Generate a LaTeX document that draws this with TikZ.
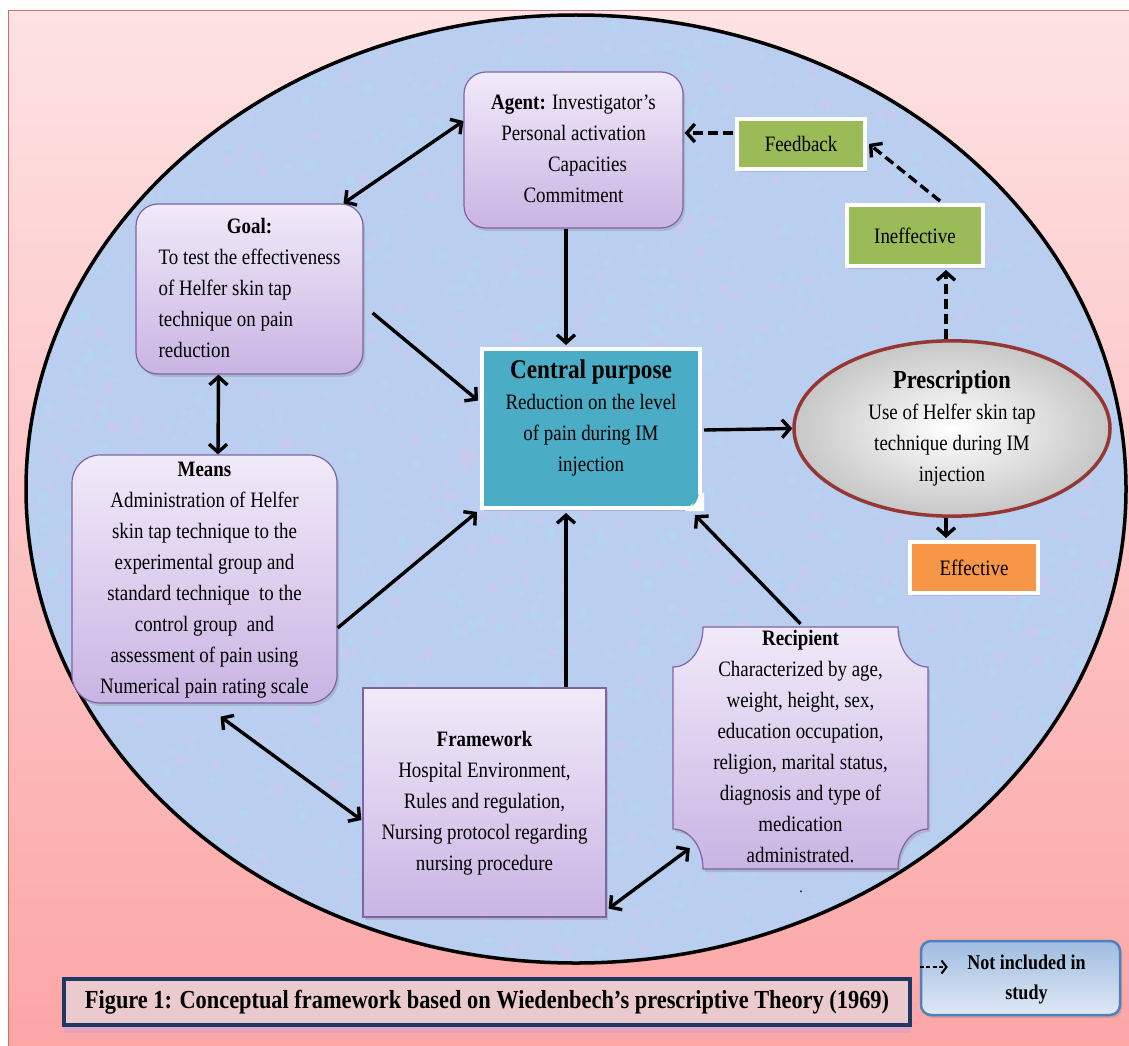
\documentclass[tikz,border=0pt]{standalone}
\usepackage{fontspec}
\setmainfont{Liberation Serif}[FakeStretch=0.86]
\usetikzlibrary{arrows.meta,calc,shadows,shapes.geometric}

\definecolor{bgtop}{RGB}{253,226,227}
\definecolor{bgbot}{RGB}{252,166,166}
\definecolor{bgline}{RGB}{205,110,110}
\definecolor{ellfill}{RGB}{186,207,240}
\definecolor{spotpink}{RGB}{220,196,236}
\definecolor{spotcyan}{RGB}{176,222,246}
\definecolor{purpborder}{RGB}{128,100,162}
\definecolor{purptop}{RGB}{241,234,249}
\definecolor{purpbot}{RGB}{201,180,227}
\definecolor{greenbox}{RGB}{155,187,89}
\definecolor{orangebox}{RGB}{247,150,70}
\definecolor{tealbox}{RGB}{75,172,198}
\definecolor{prescborder}{RGB}{149,55,53}
\definecolor{navy}{RGB}{31,56,100}
\definecolor{legborder}{RGB}{79,129,189}
\definecolor{legtop}{RGB}{160,188,224}
\definecolor{legbot}{RGB}{224,233,246}
\definecolor{capfill}{RGB}{234,202,204}
\newcommand{\hdfont}{\fontsize{27}{31}\selectfont\bfseries}

\begin{document}
\begin{tikzpicture}[x=1pt,y=-1pt,
  txt/.style={font=\fontsize{22}{31}\selectfont, text=black, inner sep=0pt},
  shad/.style={drop shadow={opacity=0.3,shadow xshift=2pt,shadow yshift=-3pt}},
  purplebox/.style={txt, shad, draw=purpborder, line width=1.2pt, top color=purptop, bottom color=purpbot},
  whitebox/.style={txt, shad, draw=white, line width=4pt},
  arr/.style={line width=3.4pt, -{Straight Barb[length=8pt,width=18pt]}},
  darr/.style={line width=3.4pt, {Straight Barb[length=8pt,width=18pt]}-{Straight Barb[length=8pt,width=18pt]}},
  dasharr/.style={arr, dash pattern=on 10pt off 5pt}
]
\useasboundingbox (0,0) rectangle (1129,1046);
\fill[white] (0,0) rectangle (1129,1046);
\shade[top color=bgtop,bottom color=bgbot] (8,11) rectangle (1129,1046);
\draw[line width=1pt, bgline] (8,1046) -- (8,11) -- (1129,11);
\fill[ellfill] (576,489) ellipse [x radius=550, y radius=474];
\begin{scope}
  \clip (576,489) ellipse [x radius=550, y radius=474];
  \pgfmathsetseed{4242}
  \foreach \i in {1,...,2200}{
    \pgfmathsetmacro{\px}{26+1100*rnd}
    \pgfmathsetmacro{\py}{15+948*rnd}
    \pgfmathsetmacro{\pr}{2+4*rnd}
    \pgfmathsetmacro{\pc}{rnd}
    \ifdim\pc pt<0.5pt
      \fill[spotpink, opacity=0.3] (\px,\py) circle[radius=\pr];
    \else
      \fill[spotcyan, opacity=0.3] (\px,\py) circle[radius=\pr];
    \fi
  }
\end{scope}
\draw[line width=3.5pt] (576,489) ellipse [x radius=550, y radius=474];

% Agent
\node[purplebox, rounded corners=22pt, minimum width=219pt, minimum height=156pt] (agent) at (573.5,150)
 {\begin{tabular}{@{}c@{}}\textbf{Agent:} Investigator’s\\ Personal activation\\ \hspace*{28pt}Capacities\\ Commitment\end{tabular}};

% Goal
\node[purplebox, rounded corners=22pt, minimum width=227pt, minimum height=170pt] (goal) at (249.5,289)
 {\begin{tabular}{@{}l@{}}\multicolumn{1}{c}{\textbf{Goal:}}\\ To test the effectiveness\\ of Helfer skin tap\\ technique on pain\\ reduction\end{tabular}};

% Means
\node[purplebox, rounded corners=28pt, minimum width=265pt, minimum height=242pt] (means) at (204.5,579)
 {\begin{tabular}{@{}c@{}}\textbf{Means}\\ Administration of Helfer\\ skin tap technique to the\\ experimental group and\\ standard technique~ to the\\ control group~ and\\ assessment of pain using\\ Numerical pain rating scale\end{tabular}};

% Framework
\node[purplebox, minimum width=243pt, minimum height=229pt] (frame) at (484.5,802.5)
 {\begin{tabular}{@{}c@{}}\textbf{Framework}\\ Hospital Environment,\\ Rules and regulation,\\ Nursing protocol regarding\\ nursing procedure\end{tabular}};

% Recipient plaque
\path[shad, draw=purpborder, line width=1.2pt, top color=purptop, bottom color=purpbot]
 (703,627) -- (898,627) .. controls (898,649) and (911,667) .. (928,667) -- (928,829)
 .. controls (911,829) and (898,847) .. (898,869) -- (703,869)
 .. controls (703,847) and (690,829) .. (673,829) -- (673,667)
 .. controls (690,667) and (703,649) .. (703,627) -- cycle;
\node[txt, minimum width=255pt, minimum height=242pt] (recip) at (800.5,748)
 {\begin{tabular}{@{}c@{}}\textbf{Recipient}\\ Characterized by age,\\ weight, height, sex,\\ education occupation,\\ religion, marital status,\\ diagnosis and type of\\ medication\\ administrated.\end{tabular}};
\node[txt, font=\fontsize{16}{18}\selectfont] (dot) at (801,892) {.};

% Central purpose
\node[whitebox, fill=tealbox, minimum width=218pt, minimum height=159pt] (central) at (591,428.5)
 {\begin{tabular}{@{}c@{}}{\hdfont Central purpose}\\ Reduction on the level\\ of pain during IM\\ injection\\[20pt]\end{tabular}};
\fill[white] ($(central.south east)+(-17,1)$) -- ($(central.south east)+(2,-18)$) -- ($(central.south east)+(2,1)$) -- cycle;
\fill[tealbox] ($(central.south east)+(-10,-4)$) .. controls ($(central.south east)+(-8,-11)$) .. ($(central.south east)+(-3,-16)$) -- ($(central.south east)+(-6,-8)$) -- cycle;

% Prescription
\node[txt, ellipse, draw=prescborder, line width=3.5pt, inner color=white, outer color=black!22,
      minimum width=316pt, minimum height=129pt] (presc) at (952,428.5)
 {\begin{tabular}{@{}c@{}}{\fontsize{26}{31}\selectfont\bfseries Prescription}\\ Use of Helfer skin tap\\ technique during IM\\ injection\end{tabular}};

% Outcome boxes
\node[whitebox, fill=greenbox, minimum width=128pt, minimum height=50pt] (feedback) at (801,144) {Feedback};
\node[whitebox, fill=greenbox, minimum width=136pt, minimum height=61pt] (ineff) at (915,235.5) {Ineffective};
\node[whitebox, fill=orangebox, minimum width=128pt, minimum height=51pt] (eff) at (974,567.5) {Effective};

% Legend
\node[txt, shad, draw=legborder, line width=2.5pt, rounded corners=10pt, top color=legtop, bottom color=legbot,
      minimum width=199pt, minimum height=74pt, font=\fontsize{21}{30}\selectfont\bfseries] (legend) at (1020.5,978)
 {\begin{tabular}{@{}c@{}}\hspace*{12pt}Not included in\\ \hspace*{12pt}study\end{tabular}};
\coordinate (legA) at ($(legend.west)+(0,-11)$);
\coordinate (legB) at ($(legend.west)+(28,-11)$);
\draw[line width=2pt, dash pattern=on 4pt off 2.5pt, -{Straight Barb[length=5pt,width=13pt]}] (legA) -- (legB);

% Caption
\node[txt, draw=navy, line width=3.5pt, fill=capfill, minimum width=846pt, minimum height=46pt,
      drop shadow={opacity=0.25, shadow xshift=0pt, shadow yshift=-8pt, fill=blue!40},
      font=\fontsize{26}{30}\selectfont\bfseries] (caption) at (487,1002)
 {Figure 1: Conceptual framework based on Wiedenbech’s prescriptive Theory (1969)};

% Connectors
\draw[darr] ($(agent.west)+(0,-29)$) -- ($(goal.north)+(94,0)$);
\draw[darr] ($(goal.south)+(-31,0)$) -- ($(means.north)+(13.5,0)$);
\draw[arr] ($(goal.east)+(9,24)$) -- ($(central.west)+(-2,-28)$);
\draw[arr] ($(agent.south)+(-7.5,0)$) -- ($(central.north)+(-25,-2)$);
\draw[arr] ($(means.east)+(0,49)$) -- ($(central.south west)+(-3,2)$);
\draw[arr] ($(frame.north)+(81.5,0)$) -- ($(central.south)+(-25,3)$);
\draw[arr] (recip.north) -- ($(central.south east)+(-7,5)$);
\draw[darr] ($(means.south)+(16,13)$) -- ($(frame.west)+(-1,17.5)$);
\draw[darr] ($(frame.south east)+(2,-9)$) -- ($(recip.south west)+(17,-24)$);
\draw[arr] ($(central.east)+(2,1.5)$) -- (presc.west);
\draw[arr] ($(presc.south)+(-6,0)$) -- ($(eff.north)+(-28,-2)$);
\draw[dasharr] ($(presc.north)+(-6,0)$) -- ($(ineff.south)+(31,2)$);
\draw[dasharr] ($(ineff.north)+(25,-2)$) -- ($(feedback.east)+(2,0)$);
\draw[dasharr] ($(feedback.west)+(-2,-11)$) -- ($(agent.east)+(1,-17)$);
\end{tikzpicture}
\end{document}
